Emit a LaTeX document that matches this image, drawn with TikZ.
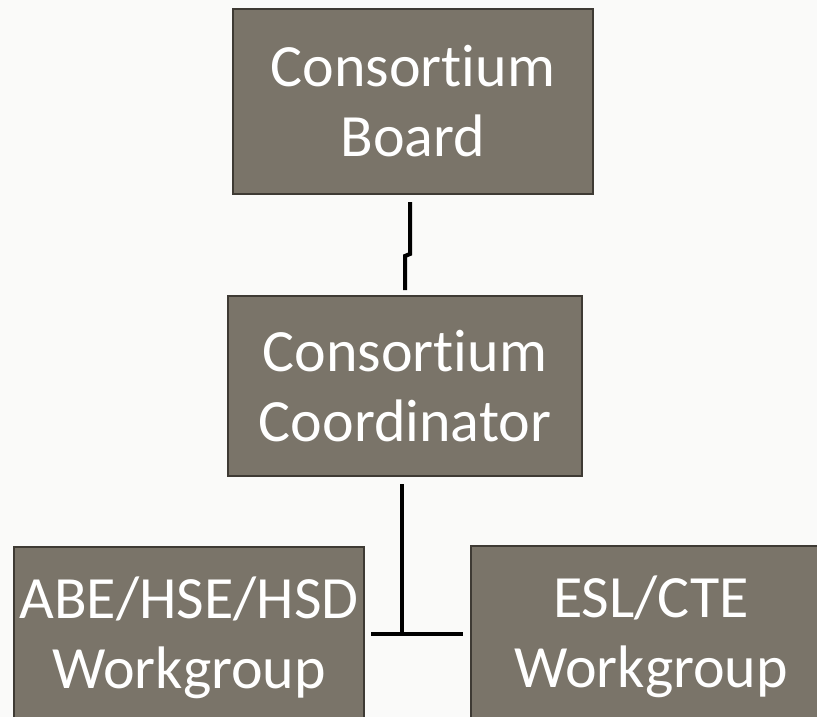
\documentclass[tikz,border=0pt]{standalone}
\usepackage{fontspec}
\setmainfont{Carlito}[Ligatures=NoCommon]
\definecolor{boxfill}{RGB}{122,116,105}
\definecolor{boxline}{RGB}{62,58,52}
\definecolor{bg}{RGB}{250,250,249}
\begin{document}
\begin{tikzpicture}[x=1pt,y=-1pt,
  orgbox/.style={draw=boxline,line width=1.5pt,fill=boxfill,text=white,inner sep=0pt,align=center,
    font=\fontsize{60}{70}\selectfont},
  conn/.style={draw=black,line width=4pt}]
\useasboundingbox (0,0) rectangle (817,717);
\clip (0,0) rectangle (817,717);
\fill[bg] (0,0) rectangle (817,717);
\node[orgbox,minimum width=360pt,minimum height=185pt] (board) at (413,101.5) {Consortium\\Board};
\node[orgbox,minimum width=354pt,minimum height=180pt] (coord) at (405,386) {Consortium\\Coordinator};
\node[orgbox,minimum width=350pt,minimum height=182pt] (abe) at (189,638) {ABE/HSE/HSD\\Workgroup};
\node[orgbox,minimum width=360pt,minimum height=182pt] (esl) at (651,637) {ESL/CTE\\Workgroup};
\coordinate (b1) at (410,202);
\coordinate (b2) at (410,254);
\coordinate (b3) at (405,256);
\coordinate (b4) at (405,290);
\draw[conn] (b1) -- (b2) -- (b3) -- (b4);
\coordinate (c1) at (402,484);
\coordinate (c2) at (402,634);
\coordinate (hl) at (371,634);
\coordinate (hr) at (463,634);
\draw[conn] (c1) -- (c2);
\draw[conn] (hl) -- (hr);
\end{tikzpicture}
\end{document}
